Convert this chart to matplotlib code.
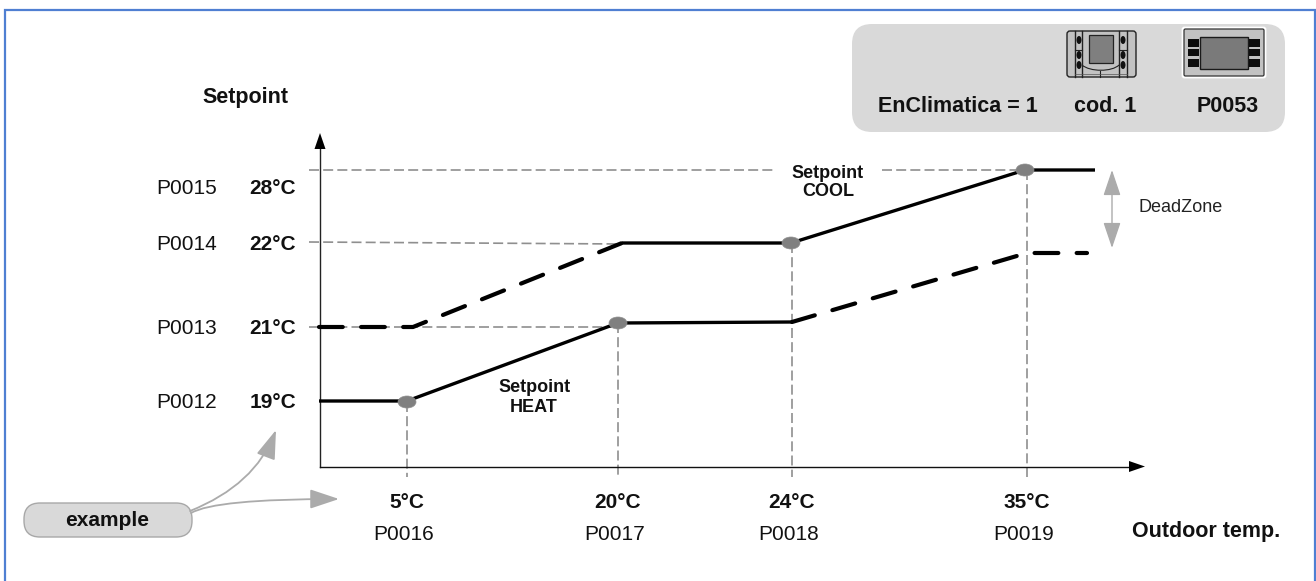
import matplotlib
matplotlib.use('Agg')
import matplotlib.pyplot as plt
import matplotlib.patches as patches
from matplotlib.path import Path

plt.rcParams['font.family'] = ['Liberation Sans', 'DejaVu Sans']
plt.rcParams['text.color'] = '#111111'

# schematic chart: positions along the axes are not to scale, so values
# are kept in drawing units (px of the original sheet)
outdoor_labels = ['5°C', '20°C', '24°C', '35°C']
outdoor_params = ['P0016', 'P0017', 'P0018', 'P0019']
outdoor_pos = [407, 618, 792, 1027]

setpoint_labels = ['19°C', '21°C', '22°C', '28°C']
setpoint_params = ['P0012', 'P0013', 'P0014', 'P0015']
setpoint_text_y = [402, 328, 244, 188]

heat_solid_x = [319, 407, 618, 792]
heat_solid_y = [401, 401, 323, 322]
heat_dash_x = [792, 1027, 1087]
heat_dash_y = [322, 253, 253]

cool_dash_x = [319, 413, 622]
cool_dash_y = [327, 327, 243]
cool_solid_x = [622, 791, 1025, 1095]
cool_solid_y = [243, 243, 170, 170]

marker_x = [407, 618, 791, 1025]
marker_y = [402, 323, 243, 170]

GREY = '#8f8f8f'
PANEL = '#d9d9d9'
ARROW = '#ababab'
ICON = '#c2c2c2'

fig = plt.figure(figsize=(13.16, 5.81), dpi=100)
ax = fig.add_axes([0, 0, 1, 1])
ax.set_xlim(0, 1316)
ax.set_ylim(581, 0)
ax.axis('off')

# frame, open at the bottom
ax.plot([5, 5, 1315, 1315], [581, 10, 10, 581], color='#4f7fd2', lw=1.6, solid_joinstyle='miter')

# guide lines
dash = (0, (6, 2.5))
ax.plot([309, 775], [170, 170], color=GREY, lw=1.2, ls=dash, zorder=1)
ax.plot([882, 1025], [170, 170], color=GREY, lw=1.2, ls=dash, zorder=1)
ax.plot([309, 622], [242, 244], color=GREY, lw=1.2, ls=dash, zorder=1)
ax.plot([309, 612], [327, 327], color=GREY, lw=1.2, ls=dash, zorder=1)
for x, y0 in zip(outdoor_pos, marker_y):
    ax.plot([x, x], [y0, 477], color=GREY, lw=1.2, ls=dash, zorder=1)

# axes with arrow heads
ax.plot([320, 320], [145, 466.5], color='#222222', lw=1.0, zorder=2)
ax.plot([319.5, 1130], [466.5, 466.5], color='#111111', lw=1.0, zorder=2)
ax.add_patch(patches.Polygon([[320, 133], [314.5, 149], [325.5, 149]], color='black', lw=0, zorder=2))
ax.add_patch(patches.Polygon([[1145, 466.5], [1129, 461], [1129, 472]], color='black', lw=0, zorder=2))

# setpoint curves
ax.plot(heat_solid_x, heat_solid_y, color='black', lw=2.4, zorder=3, solid_capstyle='butt')
ax.plot(cool_solid_x, cool_solid_y, color='black', lw=2.4, zorder=3, solid_capstyle='butt')
long_dash = (0, (5.7, 4.4))
ax.plot(heat_dash_x, heat_dash_y, color='black', lw=3, ls=long_dash, zorder=3, dash_capstyle='round')
ax.plot(cool_dash_x, cool_dash_y, color='black', lw=3, ls=long_dash, zorder=3, dash_capstyle='round')
for x, y in zip(marker_x, marker_y):
    ax.add_patch(patches.Ellipse((x, y), 18, 12, fc='#808080', ec='#8f8f8f', lw=0.5, zorder=4))

# tick texts
for y, lab, par in zip(setpoint_text_y, setpoint_labels, setpoint_params):
    ax.text(296, y, lab, ha='right', va='center', fontsize=15, fontweight='bold')
    ax.text(217, y, par, ha='right', va='center', fontsize=15)
for x, lab, par in zip(outdoor_pos, outdoor_labels, outdoor_params):
    ax.text(x, 502, lab, ha='center', va='center', fontsize=15, fontweight='bold')
    ax.text(x - 3, 535, par, ha='center', va='center', fontsize=15)

ax.text(245, 97, 'Setpoint', ha='center', va='center', fontsize=15.5, fontweight='bold')
ax.text(1206, 532, 'Outdoor temp.', ha='center', va='center', fontsize=15.5, fontweight='bold')
ax.text(535, 388, 'Setpoint', ha='center', va='center', fontsize=13, fontweight='bold')
ax.text(534, 408, 'HEAT', ha='center', va='center', fontsize=13, fontweight='bold')
ax.text(828, 173, 'Setpoint', ha='center', va='center', fontsize=13, fontweight='bold')
ax.text(828, 192, 'COOL', ha='center', va='center', fontsize=13, fontweight='bold')
ax.text(1139, 207, 'DeadZone', ha='left', va='center', fontsize=13, color='#222222')

# dead zone arrow
ax.add_patch(patches.FancyArrowPatch((1112, 170), (1112, 248),
                                     arrowstyle='<|-|>,head_length=0.8,head_width=0.27', mutation_scale=20,
                                     color=ARROW, lw=1.0, shrinkA=0, shrinkB=0))

# info panel
ax.add_patch(patches.FancyBboxPatch((852, 24), 433, 108, boxstyle='round,pad=0,rounding_size=20',
                                    fc=PANEL, ec='none'))
ax.text(958, 107, 'EnClimatica = 1', ha='center', va='center', fontsize=15.5, fontweight='bold')
ax.text(1105, 107, 'cod. 1', ha='center', va='center', fontsize=15.5, fontweight='bold')
ax.text(1228, 107, 'P0053', ha='center', va='center', fontsize=15.5, fontweight='bold')

# thermostat icon
ax.add_patch(patches.FancyBboxPatch((1067, 31), 69, 46, boxstyle='round,pad=0,rounding_size=3',
                                    fc=ICON, ec='#222222', lw=1))
for x in [1075, 1082, 1119, 1127]:
    ax.plot([x, x], [31, 77], color='#222222', lw=1.0)
ax.add_patch(patches.Rectangle((1089, 35), 24, 28, fc='#7f7f7f', ec='#222222', lw=0.9))
for x0, x1 in [(1075, 1082), (1119, 1127)]:
    ax.plot([x0, x1], [50, 50], color='#222222', lw=0.8)
for x in [1079, 1123]:
    for y in [40, 55, 65]:
        ax.add_patch(patches.Ellipse((x, y), 5, 8, fc='#111111', ec='none'))
ax.add_patch(patches.PathPatch(Path([(1082, 65), (1090, 72), (1112, 72), (1119, 65)],
                                    [Path.MOVETO, Path.CURVE4, Path.CURVE4, Path.CURVE4]),
                               fill=False, ec='#222222', lw=0.8))
ax.plot([1100, 1100], [71, 77], color='#222222', lw=0.8)
ax.plot([1075, 1127], [74, 74], color='#555555', lw=0.5)

# display icon
ax.add_patch(patches.FancyBboxPatch((1183, 28), 82, 49, boxstyle='round,pad=0,rounding_size=1.5',
                                    fc=ICON, ec='white', lw=2))
ax.add_patch(patches.FancyBboxPatch((1184, 29), 80, 47, boxstyle='round,pad=0,rounding_size=1.5',
                                    fc=ICON, ec='#333333', lw=0.9))
ax.add_patch(patches.Rectangle((1200, 37), 48, 32, fc='#7a7a7a', ec='#1a1a1a', lw=1.0))
for x in [1188, 1249]:
    for y0, y1 in [(39, 47), (49, 56), (59, 67)]:
        ax.add_patch(patches.Rectangle((x, y0), 11, y1 - y0, fc='#0d0d0d', ec='none'))

# example pill with curved arrows
ax.add_patch(patches.FancyBboxPatch((24, 503), 168, 34, boxstyle='round,pad=0,rounding_size=16',
                                    fc=PANEL, ec='#a8a8a8', lw=1))
ax.text(107, 520, 'example', ha='center', va='center', fontsize=15, fontweight='bold')
head = '-|>,head_length=0.9,head_width=0.3'
curve_codes = [Path.MOVETO, Path.CURVE3, Path.CURVE3]
ax.add_patch(patches.FancyArrowPatch(path=Path([(190, 511), (255, 485), (276, 430)], curve_codes),
                                     arrowstyle=head, mutation_scale=20, color=ARROW, lw=1.3,
                                     shrinkA=0, shrinkB=0))
ax.add_patch(patches.FancyArrowPatch(path=Path([(191, 513), (215, 499), (339, 499)], curve_codes),
                                     arrowstyle=head, mutation_scale=20, color=ARROW, lw=1.3,
                                     shrinkA=0, shrinkB=0))

fig.savefig('out.png', dpi=100)
